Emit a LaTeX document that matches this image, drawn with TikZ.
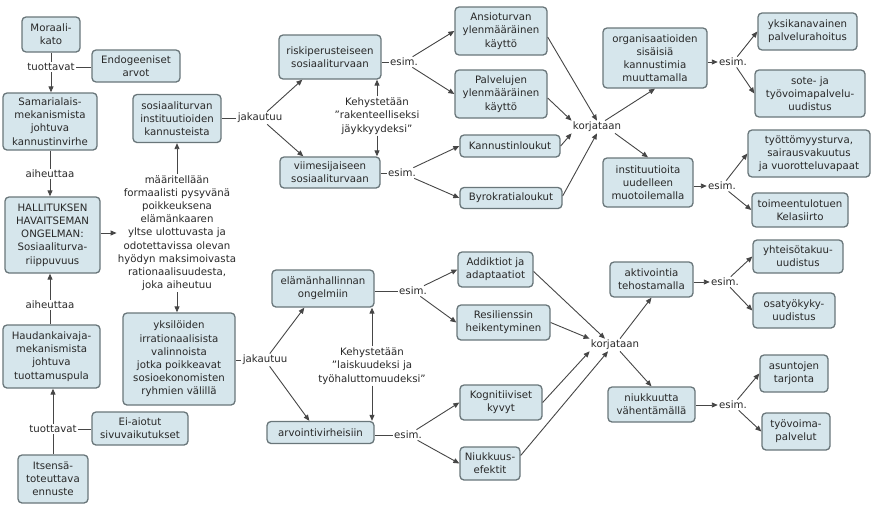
\documentclass[tikz,border=0pt]{standalone}
\usepackage{fontspec}
\setmainfont{DejaVu Sans}
\usetikzlibrary{arrows.meta}
\definecolor{boxfill}{RGB}{214,230,236}
\definecolor{boxline}{RGB}{105,118,122}
\definecolor{txt}{RGB}{40,40,40}
\definecolor{lncol}{RGB}{70,70,70}
\begin{document}
\begin{tikzpicture}[x=1pt,y=-1pt,
  every node/.style={font=\fontsize{10.2pt}{13.2pt}\selectfont, text=txt, align=center},
  concept/.style={draw=boxline, line width=1.3pt, fill=boxfill, rounded corners=4pt, inner sep=2pt},
  lbl/.style={inner sep=1.2pt},
  ln/.style={draw=lncol, line width=0.9pt},
  arr/.style={ln, -{Triangle[length=6pt,width=5pt]}}]
\useasboundingbox (0,0) rectangle (871,504);

% concepts
\node[concept, minimum width=58pt, minimum height=35pt] (mor) at (51,34.5) {Moraali-\\kato};
\node[concept, minimum width=88pt, minimum height=32pt] (endo) at (136,66) {Endogeeniset\\arvot};
\node[concept, minimum width=94pt, minimum height=57pt] (sam) at (50,121.5) {Samarialais-\\mekanismista\\johtuva\\kannustinvirhe};
\node[concept, minimum width=95pt, minimum height=76pt] (hall) at (52.5,235) {HALLITUKSEN\\HAVAITSEMAN\\ONGELMAN:\\Sosiaaliturva-\\riippuvuus};
\node[concept, minimum width=97pt, minimum height=63pt] (haud) at (51.5,356.5) {Haudankaivaja-\\mekanismista\\johtuva\\tuottamuspula};
\node[concept, minimum width=96pt, minimum height=33pt] (eiai) at (140,428.5) {Ei-aiotut\\sivuvaikutukset};
\node[concept, minimum width=70pt, minimum height=48pt] (itse) at (53,479) {Itsensä-\\toteuttava\\ennuste};
\node[concept, minimum width=88pt, minimum height=48pt] (sos) at (177,118.5) {sosiaaliturvan\\instituutioiden\\kannusteista};
\node[concept, minimum width=112pt, minimum height=92pt] (yks) at (179,359) {yksilöiden\\irrationaalisista\\valinnoista\\jotka poikkeavat\\sosioekonomisten\\ryhmien välillä};
\node[concept, minimum width=102pt, minimum height=44pt] (risk) at (330,57) {riskiperusteiseen\\sosiaaliturvaan};
\node[concept, minimum width=100pt, minimum height=31pt] (viim) at (330,172.5) {viimesijaiseen\\sosiaaliturvaan};
\node[concept, minimum width=92pt, minimum height=48pt] (ansio) at (501,31) {Ansioturvan\\ylenmääräinen\\käyttö};
\node[concept, minimum width=92pt, minimum height=48pt] (palv) at (501,94) {Palvelujen\\ylenmääräinen\\käyttö};
\node[concept, minimum width=100pt, minimum height=22pt] (kann) at (510,146) {Kannustinloukut};
\node[concept, minimum width=102pt, minimum height=21pt] (byro) at (511,198) {Byrokratialoukut};
\node[concept, minimum width=104pt, minimum height=60pt] (org) at (655,58) {organisaatioiden\\sisäisiä\\kannustimia\\muuttamalla};
\node[concept, minimum width=90pt, minimum height=49pt] (inst) at (648,182.5) {instituutioita\\uudelleen\\muotoilemalla};
\node[concept, minimum width=99pt, minimum height=37pt] (yksik) at (807.5,31.5) {yksikanavainen\\palvelurahoitus};
\node[concept, minimum width=110pt, minimum height=47pt] (sote) at (810,93.5) {sote- ja\\työvoimapalvelu-\\uudistus};
\node[concept, minimum width=122pt, minimum height=47pt] (tyott) at (809,153.5) {työttömyysturva,\\sairausvakuutus\\ja vuorotteluvapaat};
\node[concept, minimum width=96pt, minimum height=34pt] (toim) at (800,210) {toimeentulotuen\\Kelasiirto};
\node[concept, minimum width=102pt, minimum height=37pt] (elam) at (323,288.5) {elämänhallinnan\\ongelmiin};
\node[concept, minimum width=107pt, minimum height=22pt] (arvo) at (320.5,432.5) {arvointivirheisiin};
\node[concept, minimum width=75pt, minimum height=35pt] (addi) at (495.5,269.5) {Addiktiot ja\\adaptaatiot};
\node[concept, minimum width=93pt, minimum height=35pt] (resi) at (503.5,322.5) {Resilienssin\\heikentyminen};
\node[concept, minimum width=82pt, minimum height=35pt] (kogn) at (501,402.5) {Kognitiiviset\\kyvyt};
\node[concept, minimum width=60pt, minimum height=33pt] (niuk) at (490,463.5) {Niukkuus-\\efektit};
\node[concept, minimum width=83pt, minimum height=35pt] (akti) at (651.5,279.5) {aktivointia\\tehostamalla};
\node[concept, minimum width=87pt, minimum height=35pt] (niukv) at (651.5,404.5) {niukkuutta\\vähentämällä};
\node[concept, minimum width=90pt, minimum height=33pt] (yhte) at (798,256.5) {yhteisötakuu-\\uudistus};
\node[concept, minimum width=82pt, minimum height=35pt] (osat) at (794,310.5) {osatyökyky-\\uudistus};
\node[concept, minimum width=68pt, minimum height=37pt] (asun) at (794,373.5) {asuntojen\\tarjonta};
\node[concept, minimum width=68pt, minimum height=37pt] (tyov) at (796,431.5) {työvoima-\\palvelut};

% linking phrases
\node[lbl] (tuot1) at (51,67) {tuottavat};
\node[lbl] (aih1) at (50,174) {aiheuttaa};
\node[lbl] (aih2) at (50,305) {aiheuttaa};
\node[lbl] (tuot2) at (53,429) {tuottavat};
\node[lbl] (long) at (177,233) {määritellään\\formaalisti pysyvänä\\poikkeuksena\\elämänkaaren\\yltse ulottuvasta ja\\odotettavissa olevan\\hyödyn maksimoivasta\\rationaalisuudesta,\\joka aiheutuu};
\node[lbl] (jak1) at (260,118) {jakautuu};
\node[lbl] (esim1) at (404,62) {esim.};
\node[lbl] (kehy1) at (377,116) {Kehystetään\\"rakenteelliseksi\\jäykkyydeksi"};
\node[lbl] (esim2) at (402,173) {esim.};
\node[lbl] (korj1) at (597,127) {korjataan};
\node[lbl] (esim3) at (733,62) {esim.};
\node[lbl] (esim4) at (722,186) {esim.};
\node[lbl] (jak2) at (265,360) {jakautuu};
\node[lbl] (esim5) at (413,291) {esim.};
\node[lbl] (kehy2) at (372,366) {Kehystetään\\"laiskuudeksi ja\\työhaluttomuudeksi"};
\node[lbl] (esim6) at (408,435) {esim.};
\node[lbl] (korj2) at (615,345) {korjataan};
\node[lbl] (esim7) at (725,282) {esim.};
\node[lbl] (esim8) at (733,405) {esim.};

% left column
\draw[ln] (mor) -- (mor |- tuot1.north);
\draw[arr] (mor |- tuot1.south) -- (mor |- sam.north);
\draw[ln] (endo.west |- tuot1) -- (tuot1.east);
\draw[ln] (sam.south -| aih1) -- (aih1.north);
\draw[arr] (aih1.south) -- (aih1.south |- hall.north);
\draw[ln] (haud.north -| aih2) -- (aih2.south);
\draw[arr] (aih2.north) -- (aih2.north |- hall.south);
\draw[ln] (itse.north -| tuot2) -- (tuot2.south);
\draw[arr] (tuot2.north) -- (tuot2.north |- haud.south);
\draw[ln] (eiai.west |- tuot2) -- (tuot2.east);
\draw[arr] (long.west -| hall.east) -- (long.west);
\draw[arr] (long.north) -- (long.north |- sos.south);
\draw[arr] (long.south) -- (long.south |- yks.north);

% upper branch
\draw[ln] (sos.east |- jak1) -- (jak1.west);
\draw[arr] (jak1) -- ([xshift=24pt]risk.south west);
\draw[arr] (jak1) -- ([xshift=24pt]viim.north west);
\draw[ln] (risk.east |- esim1) -- (esim1.west);
\draw[arr] (esim1) -- (ansio.west);
\draw[arr] (esim1) -- (palv.west);
\draw[arr] (kehy1.north) -- (kehy1.north |- risk.south);
\draw[arr] (kehy1.south) -- (kehy1.south |- viim.north);
\draw[ln] (viim.east |- esim2) -- (esim2.west);
\draw[arr] (esim2) -- (kann.west);
\draw[arr] (esim2) -- (byro.west);
\draw[arr] ([yshift=-6pt]ansio.east) -- (korj1.north);
\draw[arr] ([yshift=-4pt]palv.east) -- (korj1.north west);
\draw[arr] (kann.east) -- (korj1.south west);
\draw[arr] ([yshift=2pt]byro.east) -- (korj1.south);
\draw[arr] ([xshift=8pt]korj1.north) -- (org.south);
\draw[arr] ([xshift=18pt]korj1.south) -- (inst.north);
\draw[arr] (org.east |- esim3) -- (esim3.west);
\draw[arr] (esim3) -- (yksik.west);
\draw[arr] (esim3) -- (sote.west);
\draw[arr] (inst.east |- esim4) -- (esim4.west);
\draw[arr] (esim4) -- (tyott.west);
\draw[arr] (esim4) -- (toim.west);

% lower branch
\draw[ln] (yks.east |- jak2) -- (jak2.west);
\draw[arr] (jak2) -- ([xshift=33pt]elam.south west);
\draw[arr] (jak2) -- ([xshift=43pt]arvo.north west);
\draw[ln] (elam.east |- esim5) -- (esim5.west);
\draw[arr] (esim5) -- (addi.west);
\draw[arr] (esim5) -- (resi.west);
\draw[arr] (kehy2.north) -- (kehy2.north |- elam.south);
\draw[arr] (kehy2.south) -- (kehy2.south |- arvo.north);
\draw[ln] (arvo.east |- esim6) -- (esim6.west);
\draw[arr] (esim6) -- (kogn.west);
\draw[arr] (esim6) -- (niuk.west);
\draw[arr] ([yshift=-2pt]addi.east) -- ([xshift=-10pt]korj2.north);
\draw[arr] (resi.east) -- (korj2.north west);
\draw[arr] (kogn.east) -- (korj2.south west);
\draw[arr] ([yshift=8pt]niuk.east) -- ([xshift=-7pt]korj2.south);
\draw[arr] ([xshift=5pt]korj2.north) -- (akti.south);
\draw[arr] ([xshift=5pt]korj2.south) -- (niukv.north);
\draw[arr] (akti.east |- esim7) -- (esim7.west);
\draw[arr] (esim7) -- (yhte.west);
\draw[arr] (esim7) -- (osat.west);
\draw[arr] (niukv.east |- esim8) -- (esim8.west);
\draw[arr] (esim8) -- (asun.west);
\draw[arr] (esim8) -- (tyov.west);
\end{tikzpicture}
\end{document}
